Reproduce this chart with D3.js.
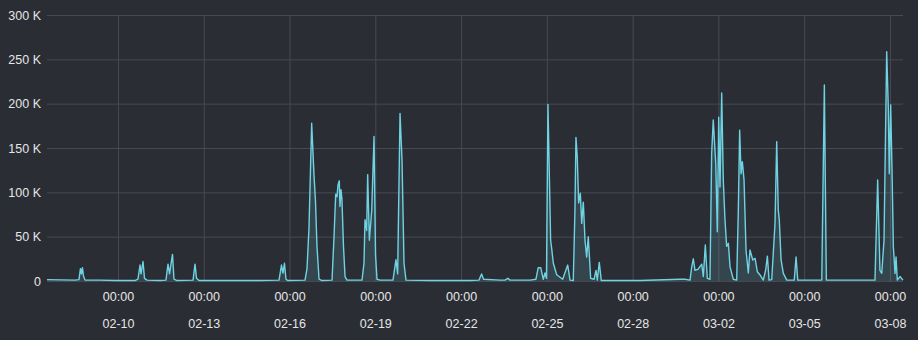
<!DOCTYPE html>
<html>
<head>
<meta charset="utf-8">
<script src="https://cdn.jsdelivr.net/npm/d3@7"></script>
<style>
  body { margin: 0; background: #2a2d33; }
  svg { display: block; font-family: "Liberation Sans", Arial, sans-serif; }
</style>
</head>
<body>
<svg width="918" height="340"></svg>
<script>
// Data (year 2024)
var times = [
  "02-07 12:25", "02-08 12:00", "02-08 15:15", "02-08 16:30", "02-08 17:20", "02-08 18:10", "02-08 19:00", "02-08 20:20",
  "02-09 09:00", "02-09 21:30", "02-10 14:15", "02-10 16:45", "02-10 18:30", "02-10 19:20", "02-10 21:00", "02-10 22:15",
  "02-11 00:20", "02-11 11:15", "02-11 16:15", "02-11 18:00", "02-11 19:15", "02-11 21:45", "02-11 23:00", "02-12 01:30",
  "02-12 15:00", "02-12 16:40", "02-12 17:55", "02-12 20:00", "02-13 22:00", "02-14 23:10", "02-15 15:10", "02-15 17:15",
  "02-15 18:30", "02-15 19:45", "02-15 21:00", "02-15 22:40", "02-16 13:00", "02-16 14:40", "02-16 16:20", "02-16 18:35",
  "02-16 20:30", "02-16 21:45", "02-16 23:00", "02-17 00:45", "02-17 03:15", "02-17 11:40", "02-17 13:20", "02-17 14:45",
  "02-17 15:50", "02-17 16:40", "02-17 17:45", "02-17 18:20", "02-17 19:10", "02-17 20:00", "02-17 21:15", "02-17 22:35",
  "02-18 00:15", "02-18 12:50", "02-18 14:30", "02-18 15:20", "02-18 16:45", "02-18 17:35", "02-18 19:00", "02-18 21:00",
  "02-18 22:55", "02-19 00:10", "02-19 01:25", "02-19 03:55", "02-19 14:50", "02-19 17:20", "02-19 18:45", "02-19 20:45",
  "02-19 22:25", "02-20 00:05", "02-20 01:45", "02-20 21:55", "02-22 07:30", "02-22 15:00", "02-22 17:15", "02-22 18:50",
  "02-23 08:40", "02-23 12:50", "02-23 15:20", "02-23 17:00", "02-24 09:50", "02-24 14:50", "02-24 16:45", "02-24 18:50",
  "02-24 21:00", "02-24 22:25", "02-24 23:40", "02-25 00:55", "02-25 03:10", "02-25 04:00", "02-25 05:25", "02-25 08:15",
  "02-25 13:15", "02-25 17:30", "02-25 19:25", "02-25 22:10", "02-25 23:35", "02-26 00:25", "02-26 01:30", "02-26 02:40",
  "02-26 04:05", "02-26 05:15", "02-26 06:35", "02-26 08:00", "02-26 09:25", "02-26 10:45", "02-26 12:45", "02-26 15:35",
  "02-26 17:15", "02-26 18:20", "02-26 20:00", "02-26 21:40", "02-28 06:10", "02-29 15:45", "02-29 19:55", "03-01 00:10",
  "03-01 01:35", "03-01 02:55", "03-01 04:20", "03-01 07:05", "03-01 10:00", "03-01 11:20", "03-01 13:00", "03-01 14:40",
  "03-01 16:55", "03-01 18:20", "03-01 19:40", "03-01 21:45", "03-01 23:05", "03-02 00:15", "03-02 01:20", "03-02 02:45",
  "03-02 04:05", "03-02 05:30", "03-02 06:55", "03-02 08:20", "03-02 09:45", "03-02 12:30", "03-02 15:20", "03-02 16:40",
  "03-02 17:50", "03-02 19:00", "03-02 20:05", "03-02 21:30", "03-02 23:10", "03-03 01:05", "03-03 02:30", "03-03 04:50",
  "03-03 06:45", "03-03 08:40", "03-03 10:55", "03-03 13:40", "03-03 15:40", "03-03 17:05", "03-03 18:30", "03-03 20:45",
  "03-03 23:30", "03-04 00:55", "03-04 02:15", "03-04 03:05", "03-04 04:35", "03-04 06:30", "03-04 09:20", "03-04 15:40",
  "03-04 17:10", "03-04 18:35", "03-05 14:45", "03-05 16:55", "03-05 18:35", "03-07 11:25", "03-07 13:40", "03-07 15:35",
  "03-07 17:05", "03-07 19:00", "03-07 21:15", "03-07 22:35", "03-07 23:25", "03-08 00:35", "03-08 01:40", "03-08 02:50",
  "03-08 04:15", "03-08 05:05", "03-08 06:10", "03-08 08:25", "03-08 10:55"
];

var values = [
  1500, 1000, 1500, 14000, 8000, 15000, 6000, 1000,
  1000, 500, 500, 2000, 18000, 8000, 22000, 3000,
  1000, 500, 1000, 19000, 8000, 30000, 2000, 500,
  1000, 19000, 3000, 500, 500, 500, 1000, 18000,
  9000, 20000, 2000, 500, 1000, 14000, 60000, 178000,
  120000, 91000, 40000, 2000, 500, 1000, 50000, 98000,
  95000, 108000, 113000, 84000, 103000, 92000, 40000, 5000,
  1000, 1000, 20000, 69000, 57000, 120000, 46000, 80000,
  163000, 30000, 2000, 1000, 1000, 24000, 8000, 189000,
  136000, 20000, 1000, 500, 500, 1000, 8000, 2000,
  1000, 1000, 3000, 1000, 1000, 2000, 15000, 15000,
  2000, 9000, 3000, 199000, 46000, 37000, 20000, 7000,
  2000, 18000, 1000, 500, 80000, 162000, 140000, 88000,
  99000, 65000, 89000, 46000, 27000, 50000, 3000, 2000,
  12000, 1000, 21000, 500, 500, 2000, 2000, 1000,
  16000, 25000, 12000, 13500, 19000, 5000, 40600, 3000,
  2000, 144000, 181600, 132700, 55600, 184600, 106000, 212000,
  114000, 69000, 39000, 42500, 16000, 2000, 1000, 77000,
  170000, 121000, 134600, 114000, 35000, 9000, 35000, 23700,
  25600, 10500, 6800, 1000, 12400, 28000, 1000, 1500,
  65000, 157000, 80000, 69000, 23700, 8600, 1000, 1000,
  27000, 1000, 1000, 221000, 1000, 1000, 114000, 12000,
  8600, 46000, 258600, 196600, 121000, 198500, 129000, 38700,
  8600, 27000, 1000, 5000, 1000
];

var yTicks = [0, 50000, 100000, 150000, 200000, 250000, 300000];
var xTicks = ["02-10", "02-13", "02-16", "02-19", "02-22", "02-25", "02-28", "03-02", "03-05", "03-08"];
var xRange = ["02-07 12:25", "03-08 10:56"];

var parseTime = d3.timeParse("%Y-%m-%d %H:%M");
function toDate(s) { return parseTime("2024-" + s); }
function dayStart(s) { return parseTime("2024-" + s + " 00:00"); }

var data = times.map(function(t, i) { return { t: toDate(t), v: values[i] }; });

var svg = d3.select("svg");
var plotLeft = 47, plotRight = 903, plotTop = 15, plotBottom = 281;

var x = d3.scaleTime().domain(xRange.map(toDate)).range([plotLeft, plotRight]);
var y = d3.scaleLinear().domain([0, 300000]).range([plotBottom, plotTop]);

// Y axis + horizontal grid
var yAxis = svg.append("g")
    .attr("transform", "translate(" + plotLeft + ",0)")
    .call(d3.axisLeft(y)
        .tickValues(yTicks)
        .tickSize(-(plotRight - plotLeft))
        .tickPadding(6)
        .tickFormat(function(d) { return d === 0 ? "0" : (d / 1000) + " K"; }));
yAxis.select(".domain").remove();
yAxis.selectAll("line").attr("stroke", "#474a50");
yAxis.selectAll("text").attr("fill", "#e6e6e6").attr("font-size", 12.5);

// X axis + vertical grid
var xAxis = svg.append("g")
    .attr("transform", "translate(0," + plotBottom + ")")
    .call(d3.axisBottom(x)
        .tickValues(xTicks.map(dayStart))
        .tickSize(-(plotBottom - plotTop))
        .tickPadding(11)
        .tickFormat(d3.timeFormat("%H:%M")));
xAxis.select(".domain").remove();
xAxis.selectAll("line").attr("stroke", "#474a50");
xAxis.selectAll("text").attr("fill", "#e6e6e6").attr("font-size", 12.5)
    .each(function(d) {
        d3.select(this).append("tspan")
            .attr("x", 0)
            .attr("dy", "2.2em")
            .text(d3.timeFormat("%m-%d")(d));
    });

// Area + line
var area = d3.area()
    .x(function(d) { return x(d.t); })
    .y0(y(0))
    .y1(function(d) { return y(d.v); });

var line = d3.line()
    .x(function(d) { return x(d.t); })
    .y(function(d) { return y(d.v); });

svg.append("path")
    .datum(data)
    .attr("d", area)
    .attr("fill", "#6fd3e3")
    .attr("fill-opacity", 0.15);

svg.append("path")
    .datum(data)
    .attr("d", line)
    .attr("fill", "none")
    .attr("stroke", "#6fd3e3")
    .attr("stroke-width", 1.4)
    .attr("stroke-linejoin", "round");
</script>
</body>
</html>
